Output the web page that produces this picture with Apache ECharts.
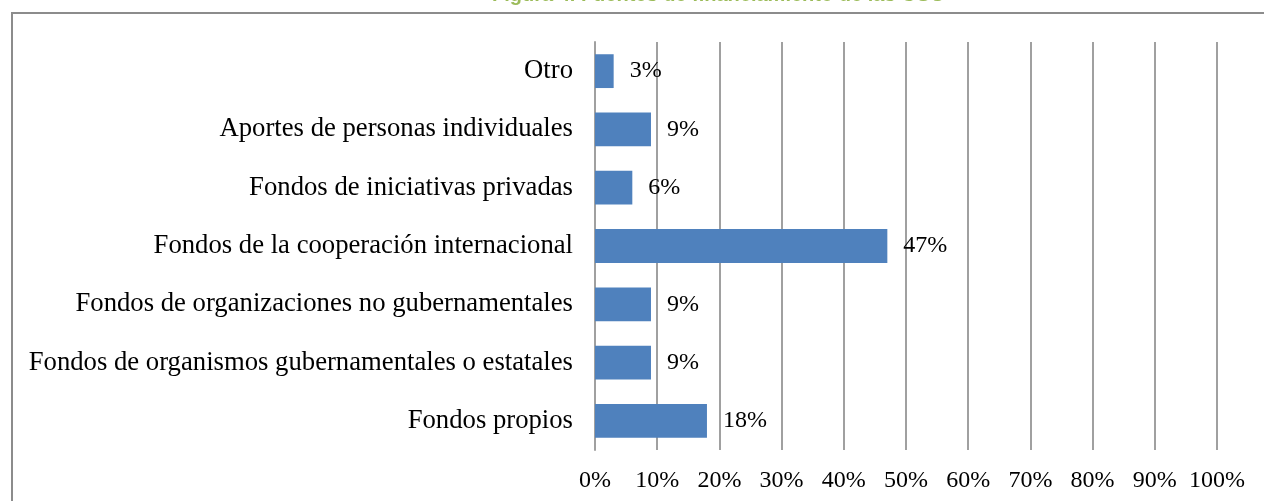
<!DOCTYPE html>
<html>
<head>
<meta charset="utf-8">
<script src="https://cdn.jsdelivr.net/npm/echarts@6/dist/echarts.min.js"></script>
<style>
  html, body { margin: 0; padding: 0; background: #fff; }
  #chart { width: 1264px; height: 501px; }
</style>
</head>
<body>
<div id="chart"></div>
<script>
// categorias de arriba hacia abajo
var categorias = [
  'Otro',
  'Aportes de personas individuales',
  'Fondos de iniciativas privadas',
  'Fondos de la cooperación internacional',
  'Fondos de organizaciones no gubernamentales',
  'Fondos de organismos gubernamentales o estatales',
  'Fondos propios'
];
var porcentajes = [3, 9, 6, 47, 9, 9, 18];
var ticks = [0, 10, 20, 30, 40, 50, 60, 70, 80, 90, 100];

var myChart = echarts.init(document.getElementById('chart'));

var option = {
  backgroundColor: '#fff',
  textStyle: { fontFamily: 'Liberation Serif' },
  graphic: [{
    type: 'rect',
    shape: { x: 12, y: 13, width: 1300, height: 600 },
    style: { fill: 'none', stroke: '#8c8c8c', lineWidth: 2 }
  }],
  title: {
    text: 'Figura 4. Fuentes de financiamiento de las OSC',
    left: 487,
    top: -20,
    textStyle: { color: '#9BBB59', fontSize: 20, fontWeight: 'bold', fontFamily: 'Liberation Sans' }
  },
  grid: { left: 595, right: 47, top: 42, height: 408, containLabel: false },
  xAxis: {
    type: 'value',
    min: 0,
    max: 100,
    interval: 10,
    axisLine: { show: false },
    axisTick: { show: false },
    splitLine: { show: true, lineStyle: { color: '#a0a0a0', width: 2 } },
    axisLabel: {
      color: '#000',
      fontSize: 24,
      margin: 19,
      formatter: function (v) { return ticks.indexOf(v) >= 0 ? v + '%' : ''; }
    }
  },
  yAxis: {
    type: 'category',
    inverse: true,
    data: categorias,
    axisLine: { show: true, lineStyle: { color: '#a0a0a0', width: 2 } },
    axisTick: { show: false },
    axisLabel: { color: '#000', fontSize: 26.7, margin: 22 }
  },
  series: [{
    type: 'bar',
    data: porcentajes,
    barCategoryGap: '42%',
    itemStyle: { color: '#4F81BD' },
    label: {
      show: true,
      position: 'right',
      distance: 16,
      color: '#000',
      fontSize: 24,
      formatter: '{c}%'
    }
  }]
};

myChart.setOption(option);
</script>
</body>
</html>
